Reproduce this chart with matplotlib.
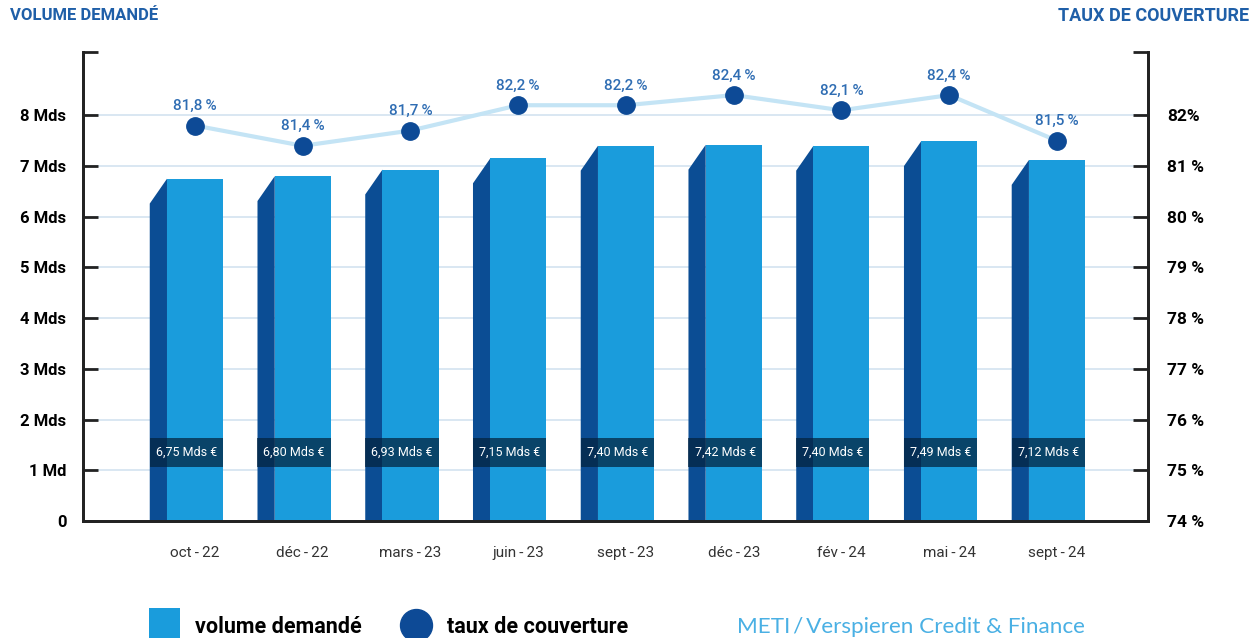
import matplotlib
matplotlib.use("Agg")
import matplotlib.pyplot as plt
from matplotlib.patches import Polygon, Rectangle
from matplotlib.lines import Line2D

plt.rcParams['font.family'] = ['Roboto', 'DejaVu Sans']

# --- data ---
months = ["oct\u2009-\u200922", "déc\u2009-\u200922", "mars\u2009-\u200923", "juin\u2009-\u200923",
          "sept\u2009-\u200923", "déc\u2009-\u200923", "fév\u2009-\u200924", "mai\u2009-\u200924",
          "sept\u2009-\u200924"]
volume = [6.75, 6.80, 6.93, 7.15, 7.40, 7.42, 7.40, 7.49, 7.12]          # Mds €
couverture = [81.8, 81.4, 81.7, 82.2, 82.2, 82.4, 82.1, 82.4, 81.5]     # %

left_ticks = [0, 1, 2, 3, 4, 5, 6, 7, 8]
left_labels = ["0", "1 Md", "2 Mds", "3 Mds", "4 Mds", "5 Mds", "6 Mds", "7 Mds", "8 Mds"]
right_labels = ["74 %", "75 %", "76 %", "77 %", "78 %", "79 %", "80 %", "81 %", "82%"]

front_col = "#1a9cdc"
side_col = "#0b4d94"
dot_col = "#0d4a96"
line_col = "#c4e4f5"
label_col = "#2f6db3"
title_col = "#1f5fa8"

fig = plt.figure(figsize=(12.53, 6.38), dpi=100)
ax = fig.add_axes([0.0662, 0.1834, 0.85, 0.7351])
ymax = 9.25
ax.set_xlim(-1.04, 8.845)
ax.set_ylim(0, ymax)

# grid
for t in left_ticks[1:]:
    ax.axhline(t, color="#d3e3f0", lw=1.2, zorder=0)

# pseudo-3D bars
fw = 0.26
sw = 0.16
for i, v in enumerate(volume):
    ax.add_patch(Polygon([(i - fw - sw, 0), (i - fw - sw, v - 0.49), (i - fw, v), (i - fw, 0)],
                         closed=True, facecolor=side_col, edgecolor="none", zorder=2))
    ax.add_patch(Rectangle((i - fw, 0), 2 * fw, v, facecolor=front_col, edgecolor="none", zorder=2))
    ax.add_patch(Rectangle((i - fw - sw, 1.07), 2 * fw + sw, 0.56, facecolor="#03223d",
                           alpha=0.72, edgecolor="none", zorder=3))
    ax.text(i - sw / 2, 1.35, f"{v:.2f}".replace(".", ",") + " Mds €", color="white",
            fontsize=9, ha="center", va="center", zorder=4)

# line on twin scale (74 % at 0, 82 % at 8)
ax2 = ax.twinx()
ax2.set_ylim(74, 74 + ymax)
xs = list(range(len(couverture)))
ax2.plot(xs, couverture, color=line_col, lw=3, zorder=3)
ax2.plot(xs, couverture, "o", color=dot_col, ms=12.5, zorder=4)
for x, p in zip(xs, couverture):
    ax2.annotate(f"{p:.1f}".replace(".", ",") + "\u2009%", (x, p), xytext=(0, 9),
                 textcoords="offset points", ha="center", va="bottom",
                 color=label_col, fontsize=11, fontweight="medium")

# axes styling
ax.set_yticks(left_ticks + [ymax])
ax.set_yticklabels(left_labels + [""], fontsize=12, fontweight="bold")
ax2.set_yticks([74 + t for t in left_ticks] + [74 + ymax])
ax2.set_yticklabels(right_labels + [""], fontsize=12.5, fontweight="bold")
ax.tick_params(axis="y", direction="in", length=11, width=2, pad=12, color="#222222")
ax2.tick_params(axis="y", direction="in", length=11, width=2, pad=14, color="#222222")
ax.set_xticks(xs)
ax.set_xticklabels(months, fontsize=11, color="#333333")
ax.tick_params(axis="x", length=0, pad=18)

for a in (ax, ax2):
    a.spines["top"].set_visible(False)
    for s in ("left", "right", "bottom"):
        a.spines[s].set_linewidth(2)
        a.spines[s].set_color("#222222")

fig.text(0.008, 0.975, "VOLUME DEMANDÉ", color=title_col, fontsize=12, fontweight="bold",
         ha="left", va="center")
fig.text(0.997, 0.975, "TAUX DE COUVERTURE", color=title_col, fontsize=13, fontweight="bold",
         ha="right", va="center")

# legend at the bottom
fig.patches.append(Rectangle((149 / 1253, 0), 31 / 1253, 30 / 638, transform=fig.transFigure,
                             facecolor=front_col, edgecolor="none"))
fig.text(195 / 1253, 0.018, "volume demandé", fontsize=15.5, fontweight="bold", ha="left", va="center")
fig.add_artist(Line2D([416 / 1253], [0.02], marker="o", ms=23, color=dot_col, linestyle="none",
                      transform=fig.transFigure))
fig.text(447 / 1253, 0.018, "taux de couverture", fontsize=15.5, fontweight="bold", ha="left", va="center")
fig.text(737 / 1253, 0.018, "METI\u2009/\u2009Verspieren Credit & Finance", fontsize=16.2,
         color="#4ab0e4", ha="left", va="center", family=["Lato", "DejaVu Sans"])

fig.savefig("out.png", dpi=100)
